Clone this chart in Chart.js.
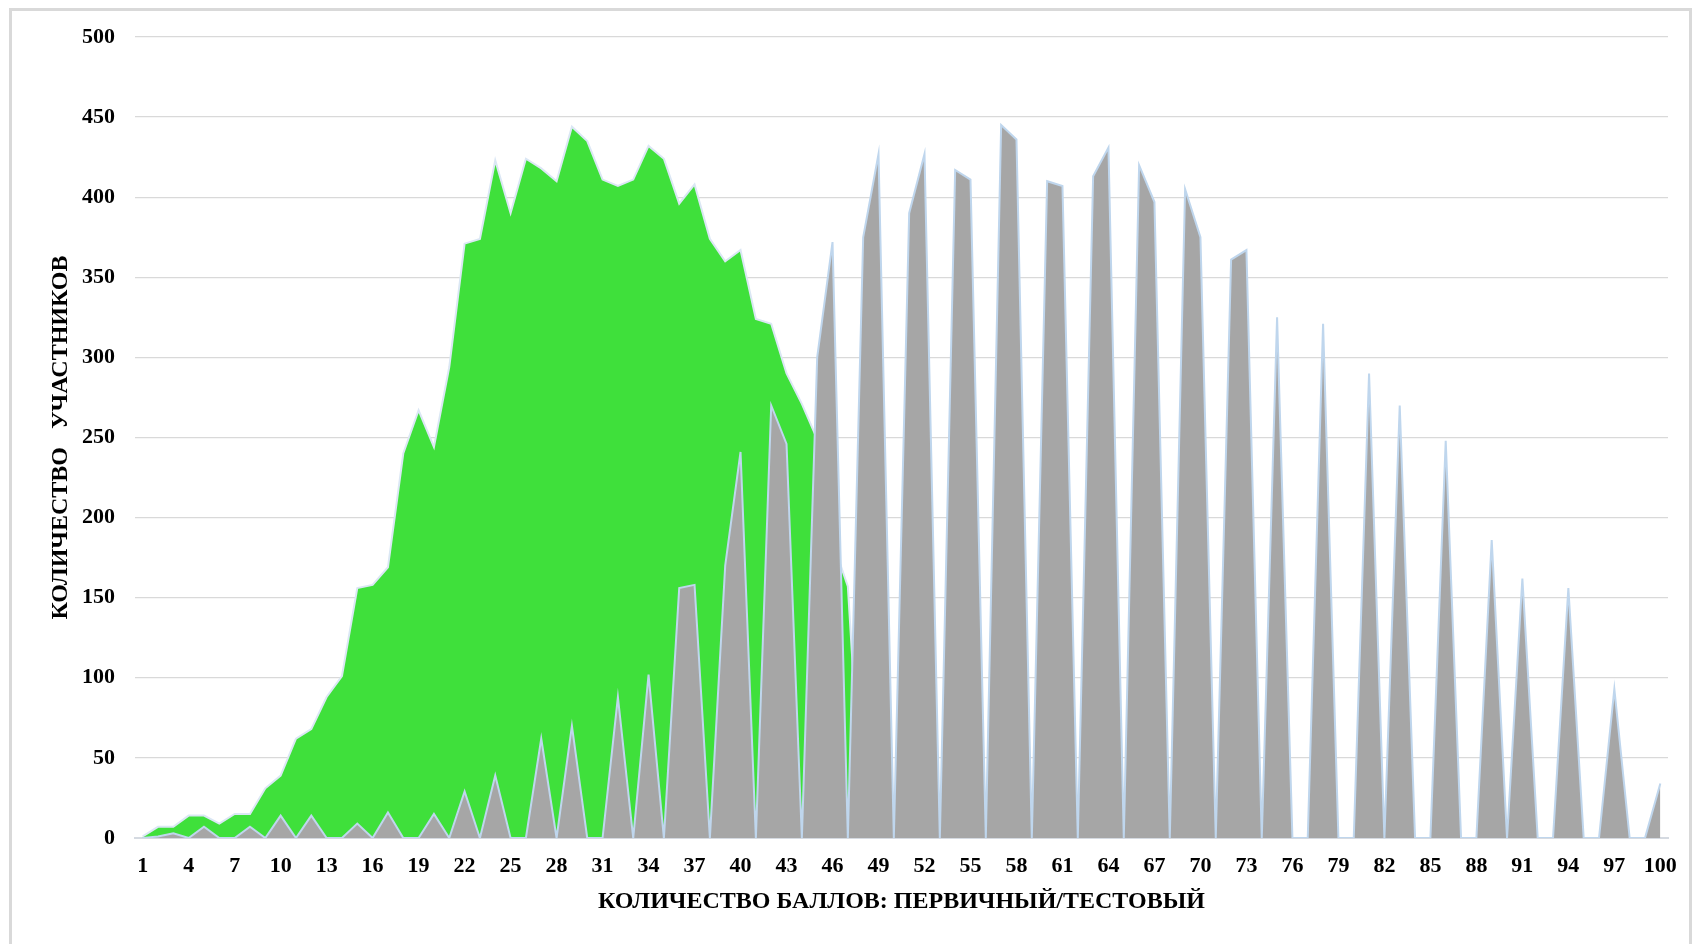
<!DOCTYPE html>
<html lang="ru">
<head>
<meta charset="UTF-8">
<title>Распределение участников по баллам</title>
<script src="https://cdn.jsdelivr.net/npm/chart.js@4.4.1/dist/chart.umd.min.js"></script>
<style>
  html, body { margin: 0; padding: 0; background: #fff; overflow: hidden; }
  #frame { position: absolute; left: 9px; top: 8px; width: 1683px; height: 960px; border: 3px solid #d9d9d9; box-sizing: border-box; }
  #wrap { position: absolute; left: 0; top: 0; width: 1700px; height: 944px; }
</style>
</head>
<body>
<div id="frame"></div>
<div id="wrap"><canvas id="scoreChart" width="1700" height="944"></canvas></div>
<script>
// баллы 1..100
const scores = ['1','2','3','4','5','6','7','8','9','10',
  '11','12','13','14','15','16','17','18','19','20',
  '21','22','23','24','25','26','27','28','29','30',
  '31','32','33','34','35','36','37','38','39','40',
  '41','42','43','44','45','46','47','48','49','50',
  '51','52','53','54','55','56','57','58','59','60',
  '61','62','63','64','65','66','67','68','69','70',
  '71','72','73','74','75','76','77','78','79','80',
  '81','82','83','84','85','86','87','88','89','90',
  '91','92','93','94','95','96','97','98','99','100'];

// первичный балл (зелёный)
const primary = [1, 7, 7, 14, 14, 9, 15, 15, 31, 39,
  62, 68, 88, 101, 156, 158, 169, 240, 267, 244,
  294, 371, 374, 423, 390, 424, 418, 410, 444, 435,
  411, 407, 411, 432, 424, 396, 408, 374, 360, 367,
  324, 321, 290, 271, 249, 185, 157, 0];

// тестовый балл (серый)
const testScore = [0, 1, 3, 0, 7, 0, 0, 7, 0, 14,
  0, 14, 0, 0, 9, 0, 16, 0, 0, 15,
  0, 29, 0, 39, 0, 0, 62, 0, 70, 0,
  0, 88, 0, 102, 0, 156, 158, 0, 170, 241,
  0, 270, 246, 0, 300, 372, 0, 375, 427, 0,
  390, 427, 0, 417, 411, 0, 445, 436, 0, 410,
  407, 0, 413, 431, 0, 420, 397, 0, 405, 375,
  0, 361, 367, 0, 325, 0, 0, 321, 0, 0,
  290, 0, 270, 0, 0, 248, 0, 0, 186, 0,
  162, 0, 0, 156, 0, 0, 93, 0, 0, 34];

const boldSerif = (size) => ({ family: 'Liberation Serif', weight: 'bold', size: size });

new Chart(document.getElementById('scoreChart'), {
  type: 'line',
  data: {
    labels: scores,
    datasets: [{
      label: 'Первичный',
      data: primary,
      order: 2,
      fill: 'origin',
      backgroundColor: '#3fe03b',
      borderColor: '#dbe7f4',
      borderWidth: 2,
      pointRadius: 0,
      tension: 0
    }, {
      label: 'Тестовый',
      data: testScore,
      order: 1,
      fill: 'origin',
      backgroundColor: '#a6a6a6',
      borderColor: '#bfd6ed',
      borderWidth: 2,
      pointRadius: 0,
      tension: 0
    }]
  },
  options: {
    responsive: false,
    animation: false,
    layout: { padding: { left: 0, right: 32, top: 37, bottom: 0 } },
    plugins: { legend: { display: false }, tooltip: { enabled: false } },
    scales: {
      x: {
        offset: true,
        grid: { display: false, drawTicks: false },
        border: { display: true, color: '#d5dae1', width: 2 },
        ticks: {
          autoSkip: false, maxRotation: 0, padding: 15, color: '#000',
          font: boldSerif(22),
          callback: (v, i) => i % 3 === 0 ? scores[i] : ''
        },
        title: {
          display: true, text: 'КОЛИЧЕСТВО БАЛЛОВ: ПЕРВИЧНЫЙ/ТЕСТОВЫЙ',
          color: '#000', font: boldSerif(24), padding: { top: 0, bottom: 28 }
        },
        afterFit: (s) => { s.height = 106; }
      },
      y: {
        min: 0, max: 500,
        grid: { color: '#d9d9d9', lineWidth: 1.3, drawTicks: false },
        border: { display: false },
        ticks: { stepSize: 50, padding: 20, color: '#000', font: boldSerif(22) },
        title: {
          display: true, text: 'КОЛИЧЕСТВО   УЧАСТНИКОВ',
          color: '#000', font: boldSerif(24), padding: { top: 46, bottom: 0 }
        },
        afterFit: (s) => { s.width = 135; }
      }
    }
  }
});
</script>
</body>
</html>
